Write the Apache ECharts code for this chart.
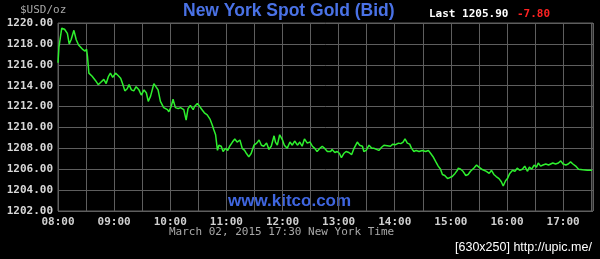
<!DOCTYPE html>
<html><head><meta charset="utf-8">
<script src="https://cdn.jsdelivr.net/npm/echarts@6/dist/echarts.min.js"></script>
<style>html,body{margin:0;padding:0;background:#000}#c{width:600px;height:259px}</style>
</head><body><div id="c"></div>
<script>
// minutes after 08:00 New York time
const minutes = [0,1,4,7,10,12,14,17,19.5,22,26,29,30.5,31.5,33,36.5,40,43,45.5,49,51.5,54,56,58.5,61.5,64,67,69,71.5,74,76,78.5,81,83.5,86.5,89,92,94.5,96.5,99,102.5,104.5,107,109.5,113,117,118.5,121,123,125.5,128.5,131,134.5,137,139,141.5,144.5,146,149,151.5,154,156.5,159.5,162.5,165,166.5,168.5,170.5,172,174.5,176.5,179,181.5,183.5,186.5,189,191.5,194.5,197,199.5,201.5,204,206.5,209.5,212.5,215,217.5,220,223,225.5,228,231,232.5,234.5,237,240,242,245,248,250.5,253,256,258.5,261,263.5,266.5,269.5,272,274.5,277,280,282.5,285,288,291.5,293,296,298.5,301,303,305.5,308,311,314,316.5,320,322.5,325.5,327,329.5,332.5,335.5,338,340.5,343,346,348.5,352,355.5,358,361,364,366.5,369,371,373.5,376,378,380.5,383,386,389.5,393,396,398.5,401,404,406.5,409,411,413.5,416.5,418.5,421.5,424.5,427,428,430.5,433,436,438.5,441,444.5,447.5,450,453,455.5,458,461,463.5,466,468.5,471.5,474,476,478.5,480.5,483,486,488.5,491,493.5,496.5,499,502,504,506.5,509,511.5,513.5,516,518.5,521.5,524.5,526.5,529,532,535,537.5,540,543,545.5,548,550.5,553.5,556.5,561,566,571];
const prices = [1216.2,1217.7,1219.5,1219.4,1219.0,1218.0,1218.4,1219.3,1218.4,1217.9,1217.5,1217.3,1217.5,1216.8,1215.2,1214.9,1214.5,1214.1,1214.3,1214.6,1214.2,1214.9,1215.2,1214.8,1215.2,1215.0,1214.7,1214.2,1213.5,1213.7,1214.1,1213.6,1213.5,1213.9,1213.6,1213.1,1213.6,1213.3,1212.5,1213.0,1214.2,1214.3,1213.6,1212.5,1211.9,1211.7,1211.5,1212.0,1212.7,1211.9,1211.8,1211.9,1211.7,1210.7,1211.8,1212.1,1211.7,1212.0,1212.3,1212.0,1211.7,1211.4,1211.2,1210.8,1210.2,1209.8,1209.3,1207.8,1208.3,1208.2,1207.7,1208.0,1207.8,1208.2,1208.6,1208.9,1208.6,1208.8,1208.0,1207.8,1207.5,1207.2,1207.5,1208.3,1208.5,1208.8,1208.3,1208.2,1208.5,1207.9,1208.2,1209.2,1208.6,1208.3,1209.3,1208.8,1208.3,1208.0,1208.6,1208.3,1208.7,1208.3,1208.6,1208.2,1208.9,1208.5,1208.6,1208.2,1208.0,1207.7,1208.0,1208.2,1208.0,1207.7,1207.7,1207.9,1207.6,1207.7,1207.5,1207.1,1207.5,1207.7,1207.6,1207.4,1208.0,1208.6,1208.3,1208.2,1207.7,1207.8,1208.3,1208.0,1208.0,1207.9,1207.8,1208.1,1208.3,1208.25,1208.2,1208.4,1208.35,1208.5,1208.45,1208.6,1208.9,1208.5,1208.4,1208.0,1207.7,1207.8,1207.7,1207.8,1207.7,1207.8,1207.5,1207.2,1206.7,1206.3,1206.0,1205.5,1205.4,1205.1,1205.0,1205.3,1205.6,1205.9,1206.1,1206.0,1205.8,1205.4,1205.5,1205.8,1206.1,1206.4,1206.2,1206.0,1205.9,1205.8,1205.6,1205.9,1205.5,1205.3,1205.1,1204.8,1204.4,1204.9,1205.1,1205.6,1205.9,1205.8,1206.1,1205.9,1206.0,1206.3,1205.8,1206.2,1206.0,1206.4,1206.2,1206.6,1206.3,1206.4,1206.5,1206.4,1206.5,1206.6,1206.5,1206.6,1206.8,1206.5,1206.4,1206.5,1206.7,1206.5,1206.3,1206.0,1205.95,1205.9,1205.9];
const hourLabels = ['08:00','09:00','10:00','11:00','12:00','13:00','14:00','15:00','16:00','17:00'];
const yTicks = [1202,1204,1206,1208,1210,1212,1214,1216,1218,1220];
const titleText = 'New York Spot Gold (Bid)';
const lastText = 'Last 1205.90';
const changeText = '-7.80';
const unitText = '$USD/oz';
const dateText = 'March 02, 2015 17:30 New York Time';
const siteText = 'www.kitco.com';
const watermark = '[630x250] http://upic.me/';

const chart = echarts.init(document.getElementById('c'));
const mono = 'DejaVu Sans Mono';
chart.setOption({
  backgroundColor: '#000',
  animation: false,
  grid: {left: 58, right: 7, top: 23, bottom: 48, show: true, borderColor: '#5e5e5e', borderWidth: 1},
  xAxis: {
    type: 'value', min: 0, max: 572, interval: 30,
    axisLine: {show: false}, axisTick: {show: false},
    splitLine: {show: true, lineStyle: {color: '#5e5e5e', width: 1}},
    axisLabel: {
      color: '#d0d0d0', fontFamily: mono, fontSize: 11, fontWeight: 'bold', margin: 6,
      showMaxLabel: false,
      formatter: v => (v % 60 === 0 && hourLabels[v/60] !== undefined) ? hourLabels[v/60] : ''
    }
  },
  yAxis: {
    type: 'value', min: yTicks[0], max: yTicks[yTicks.length-1], interval: 2,
    axisLine: {show: false}, axisTick: {show: false},
    splitLine: {show: true, lineStyle: {color: '#5e5e5e', width: 1}},
    axisLabel: {color: '#d8d8d8', fontFamily: mono, fontSize: 11, fontWeight: 'bold', margin: 5,
      formatter: v => v.toFixed(2)}
  },
  series: [{
    type: 'line', data: minutes.map((m,i) => [m, prices[i]]),
    showSymbol: false, lineStyle: {color: '#2ef02e', width: 1.5}
  }],
  graphic: [
    {type: 'text', left: 183, top: 2, style: {text: titleText, fill: '#4a72e6', font: 'bold 17.5px "Liberation Sans", Arial, sans-serif'}},
    {type: 'text', left: 20, top: 5, style: {text: unitText, fill: '#a8a8a8', font: '11px "DejaVu Sans Mono", monospace'}},
    {type: 'text', left: 429, top: 9, style: {text: lastText, fill: '#ffffff', font: 'bold 11px "DejaVu Sans Mono", monospace'}},
    {type: 'text', left: 517, top: 9, style: {text: changeText, fill: '#ff2222', font: 'bold 11px "DejaVu Sans Mono", monospace'}},
    {type: 'text', left: 228, top: 193, style: {text: siteText, fill: '#3f66e0', font: 'bold 17px "Liberation Sans", Arial, sans-serif'}},
    {type: 'text', left: 169, top: 227, style: {text: dateText, fill: '#a8a8a8', font: '11px "DejaVu Sans Mono", monospace'}},
    {type: 'text', left: 455, top: 241, style: {text: watermark, fill: '#ffffff', font: '12.5px "Liberation Sans", Arial, sans-serif'}}
  ]
});
</script></body></html>
